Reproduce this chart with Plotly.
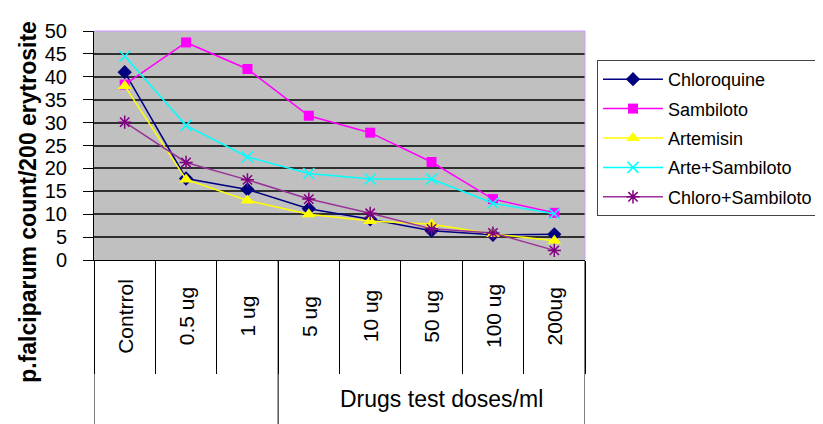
import plotly.graph_objects as go

categories = ["Contrrol", "0.5 ug", "1 ug", "5 ug", "10 ug", "50 ug", "100 ug", "200ug"]
group_labels = ["", "Drugs test doses/ml"]
group_sizes = [3, 5]

chloroquine = [41.0, 17.8, 15.4, 11.2, 8.9, 6.4, 5.5, 5.6]
sambiloto = [38.3, 47.5, 41.7, 31.5, 27.8, 21.4, 13.3, 10.3]
artemisin = [38.0, 17.6, 13.0, 10.0, 8.5, 7.8, 5.7, 4.2]
arte_sambiloto = [44.5, 29.4, 22.5, 18.9, 17.7, 17.7, 12.4, 10.1]
chloro_sambiloto = [30.1, 21.3, 17.5, 13.3, 10.2, 6.8, 5.9, 2.1]

series = [
    ("Chloroquine", chloroquine, "#000080", "diamond", 11, "#000080"),
    ("Sambiloto", sambiloto, "#FF00FF", "square", 10, "#FF00FF"),
    ("Artemisin", artemisin, "#FFFF00", "triangle-up", 12, "#FFFF00"),
    ("Arte+Sambiloto", arte_sambiloto, "#00FFFF", "x-thin-open", 11, "#00FFFF"),
    ("Chloro+Sambiloto", chloro_sambiloto, "#800080", "asterisk-open", 11, "#993399"),
]

FONT = "Liberation Sans, Arial, sans-serif"

fig = go.Figure()
for i, (name, vals, col, sym, size, lcol) in enumerate(series):
    fig.add_trace(go.Scatter(
        x=categories, y=vals, name=name, mode="lines+markers",
        legendgroup=f"g{i}",
        line=dict(color=lcol, width=1.5),
        marker=dict(symbol=sym, size=size, color=col,
                    line=dict(color=col, width=1.5 if "open" in sym else 0)),
    ))

# table-like category axis lines (long lines at group boundaries)
shapes = []
b = -0.5
bounds = [b]
for s in group_sizes:
    b += s
    bounds.append(b)
for bx in bounds:
    shapes.append(dict(type="line", xref="x", yref="paper", x0=bx, x1=bx,
                       y0=0, y1=-0.72, line=dict(color="#000000", width=1)))
# top / right plot border (light purple)
shapes.append(dict(type="line", xref="paper", yref="paper", x0=0, x1=1, y0=1, y1=1,
                   line=dict(color="#CC99FF", width=1)))
shapes.append(dict(type="line", xref="paper", yref="paper", x0=1, x1=1, y0=0, y1=1,
                   line=dict(color="#CC99FF", width=1)))

annotations = []
for i, c in enumerate(categories):
    annotations.append(dict(x=i, xref="x", y=-0.245, yref="paper", text=c,
                            showarrow=False, textangle=-90,
                            xanchor="center", yanchor="middle",
                            font=dict(family=FONT, size=21, color="#000000")))
start = -0.5
for lbl, s in zip(group_labels, group_sizes):
    if lbl:
        annotations.append(dict(x=start + s / 2, xref="x", y=-0.607, yref="paper",
                                text=lbl, showarrow=False, xshift=10,
                                xanchor="center", yanchor="middle",
                                font=dict(family=FONT, size=23, color="#000000")))
    start += s
annotations.append(dict(x=-0.136, xref="paper", y=0.255, yref="paper",
                        text="<b>p.falciparum count/200 erytrosite</b>",
                        showarrow=False, textangle=-90,
                        xanchor="center", yanchor="middle",
                        font=dict(family=FONT, size=23, color="#000000")))

fig.update_layout(
    width=815, height=416,
    margin=dict(l=86, r=235, t=16, b=164, pad=0),
    paper_bgcolor="#FFFFFF",
    plot_bgcolor="#C0C0C0",
    font=dict(family=FONT, color="#000000"),
    showlegend=True,
    legend=dict(xref="container", yref="container",
                x=0.7227, y=0.875, xanchor="left", yanchor="top",
                bgcolor="#FFFFFF", bordercolor="#444444", borderwidth=1,
                font=dict(family=FONT, size=18, color="#000000"),
                tracegroupgap=3, itemwidth=60),
    xaxis=dict(type="category", categoryorder="array", categoryarray=categories,
               range=[-0.5, len(categories) - 0.5],
               showgrid=False, zeroline=False,
               showline=True, linecolor="#000000", linewidth=1,
               ticks="outside", tickson="boundaries", ticklen=113,
               tickcolor="#000000", tickwidth=1,
               showticklabels=False),
    yaxis=dict(range=[0, 50], dtick=5, tick0=0,
               showgrid=True, gridcolor="#303030", gridwidth=1.5,
               zeroline=False,
               showline=True, linecolor="#000000", linewidth=1,
               ticks="outside", ticklen=10, tickcolor="#000000", tickwidth=1,
               ticklabelstandoff=12,
               tickfont=dict(family=FONT, size=20, color="#000000")),
    shapes=shapes,
    annotations=annotations,
)

fig.write_html("out.html")
